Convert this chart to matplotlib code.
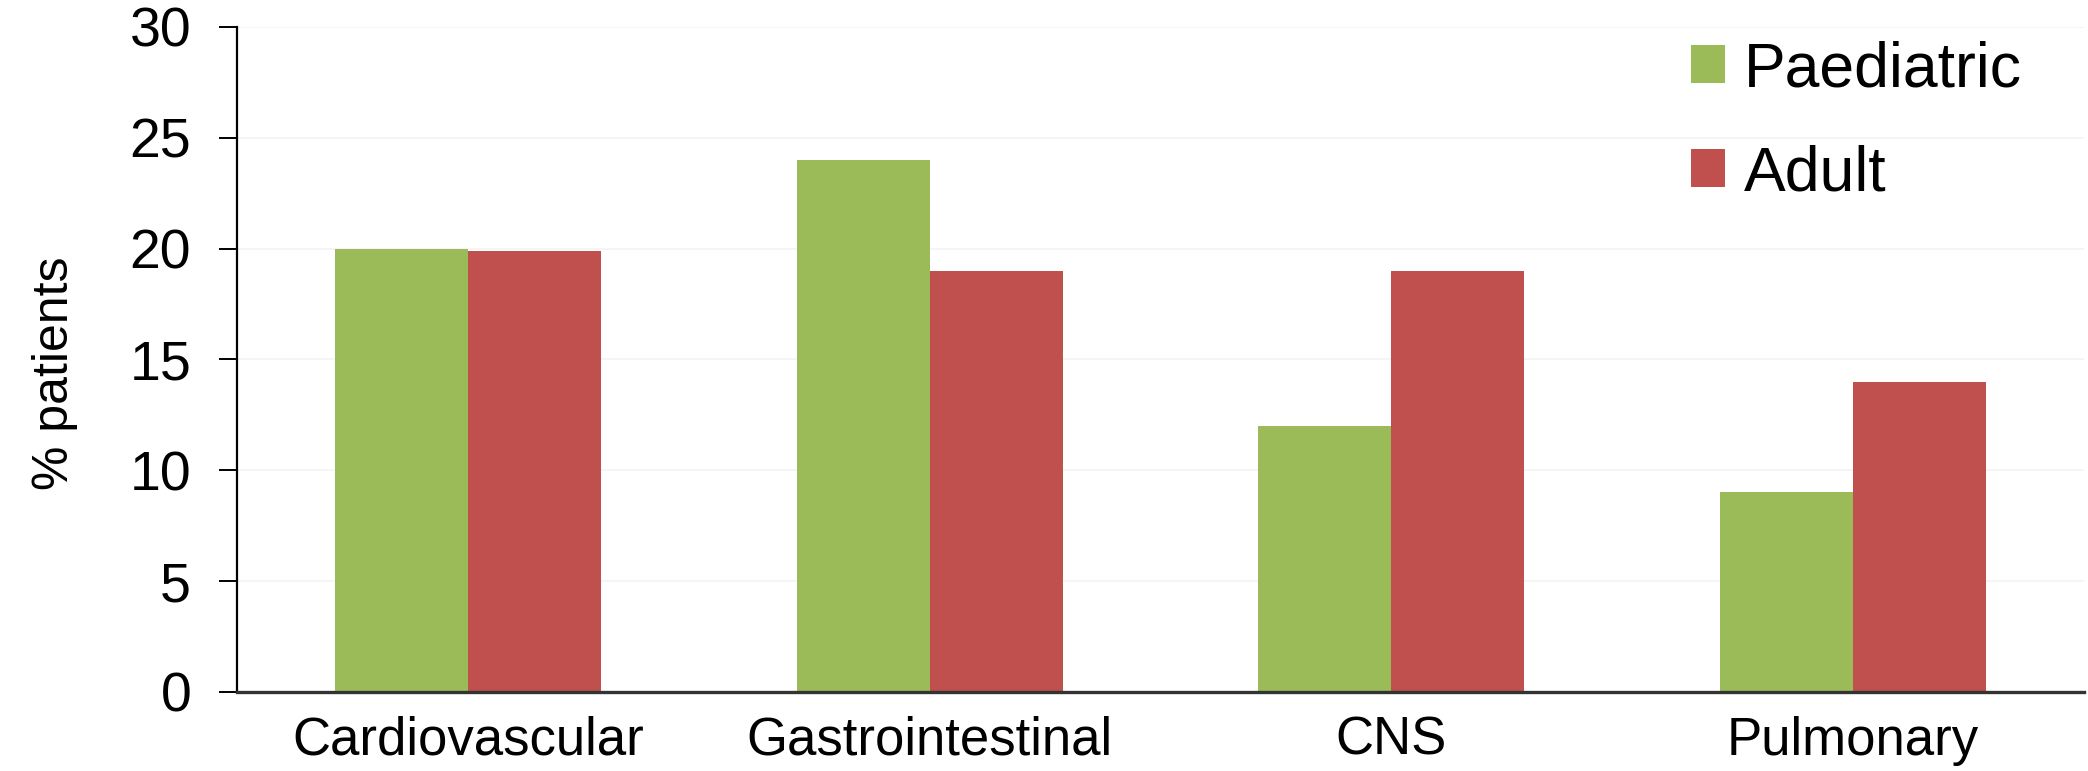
import matplotlib.pyplot as plt
import numpy as np

plt.rcParams['font.family'] = ['Liberation Sans', 'DejaVu Sans']

categories = ["Cardiovascular", "Gastrointestinal", "CNS", "Pulmonary"]
paediatric = [20, 24, 12, 9]
adult = [19.9, 19, 19, 14]
y_ticks = [0, 5, 10, 15, 20, 25, 30]


def main():
    fig = plt.figure(figsize=(20.88, 7.71), dpi=100)
    ax = fig.add_axes([0.1135, 0.1025, 0.8845, 0.8625])

    x = np.arange(len(categories))
    w = 0.288
    ax.bar(x - w / 2, paediatric, w, color='#9BBB59', label="Paediatric", zorder=2)
    ax.bar(x + w / 2, adult, w, color='#C0504D', label="Adult", zorder=2)

    ax.set_xlim(-0.5, len(categories) - 0.5)
    ax.set_ylim(0, 30)
    ax.set_yticks(y_ticks)
    ax.yaxis.grid(True, color='#f3f3f3', linewidth=1.2, zorder=0)
    ax.set_axisbelow(True)

    for s in ['top', 'right']:
        ax.spines[s].set_visible(False)
    ax.spines['left'].set_linewidth(1.6)
    ax.spines['bottom'].set_linewidth(2.4)
    ax.spines['bottom'].set_color('#333333')

    ax.set_xticks(x)
    ax.set_xticklabels(categories, fontsize=38)
    ax.tick_params(axis='x', length=0, pad=17)
    ax.tick_params(axis='y', labelsize=40, length=13, width=1.4, pad=20)

    ax.set_ylabel("% patients", fontsize=36)
    ax.yaxis.set_label_coords(-0.086, 0.48)

    ax.legend(loc='upper right', bbox_to_anchor=(0.997, 1.065), frameon=False,
              fontsize=45, handlelength=0.55, handleheight=0.55,
              handletextpad=0.3, labelspacing=0.72)

    fig.savefig("out.png", dpi=100)


if __name__ == '__main__':
    main()
